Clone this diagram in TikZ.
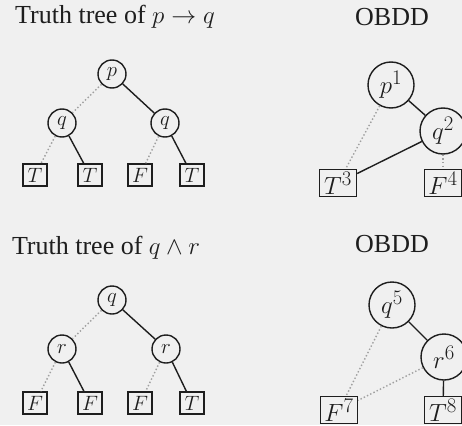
\documentclass[tikz,border=0pt]{standalone}
\usepackage{fontspec}
\setmainfont{Liberation Serif}
\definecolor{bgc}{RGB}{240,240,240}
\definecolor{edgec}{RGB}{30,30,30}
\definecolor{loc}{RGB}{160,160,160}
\tikzset{
  every node/.style={text=edgec},
  title/.style={anchor=base, inner sep=0pt, font=\fontsize{26}{28}\selectfont},
  tnode/.style={circle, draw=edgec, line width=1.4pt, minimum size=28pt, inner sep=0pt, font=\fontsize{22}{22}\selectfont},
  tleaf/.style={rectangle, draw=edgec, line width=1.4pt, minimum width=24pt, minimum height=22pt, inner sep=0pt, font=\fontsize{22}{22}\selectfont},
  onode/.style={circle, draw=edgec, line width=1.4pt, minimum size=46pt, inner sep=0pt, font=\fontsize{30}{30}\selectfont},
  oleaf/.style={rectangle, draw=edgec, line width=1.4pt, minimum width=37pt, minimum height=27pt, inner sep=0pt, font=\fontsize{29}{29}\selectfont},
  hi/.style={draw=edgec, line width=1.4pt},
  lo/.style={draw=loc, line width=1.4pt, dash pattern=on 1.4pt off 2.2pt},
}
\begin{document}
\begin{tikzpicture}[x=1pt, y=-1pt]
\useasboundingbox (0,0) rectangle (462,425);
\fill[bgc] (0,0) rectangle (462,425);

% titles
\node[title] (t1) at (115,24) {Truth tree of $p \to q$};
\node[title] (t2) at (392,26) {OBDD};
\node[title] (t3) at (106,254) {Truth tree of $q \wedge r$};
\node[title] (t4) at (392,252) {OBDD};

% truth tree of p -> q
\node[tnode] (a) at (112,74) {$p$};
\node[tnode] (a0) at (62,123) {$q$};
\node[tnode] (a1) at (165,123) {$q$};
\node[tleaf] (a00) at (35,175) {$T$};
\node[tleaf] (a01) at (90,175) {$T$};
\node[tleaf] (a10) at (140,175) {$F$};
\node[tleaf] (a11) at (192,175) {$T$};
\draw[lo] (a) -- (a0);
\draw[hi] (a) -- (a1);
\draw[lo] (a0) -- (a00);
\draw[hi] (a0) -- (a01);
\draw[lo] (a1) -- (a10);
\draw[hi] (a1) -- (a11);

% OBDD of p -> q
\node[onode] (p1) at (391,85) {$p^1$};
\node[onode] (q2) at (443,131) {$q^2$};
\node[oleaf] (T3) at (338,183) {$T^3$};
\node[oleaf] (F4) at (443,183) {$F^4$};
\draw[lo] (p1) -- (T3);
\draw[hi] (p1) -- (q2);
\draw[hi] (q2) -- (T3);
\draw[lo] (q2) -- (F4);

% truth tree of q and r
\node[tnode] (b) at (112,300) {$q$};
\node[tnode] (b0) at (62,349) {$r$};
\node[tnode] (b1) at (166,349) {$r$};
\node[tleaf] (b00) at (35,403) {$F$};
\node[tleaf] (b01) at (90,403) {$F$};
\node[tleaf] (b10) at (140,403) {$F$};
\node[tleaf] (b11) at (192,403) {$T$};
\draw[lo] (b) -- (b0);
\draw[hi] (b) -- (b1);
\draw[lo] (b0) -- (b00);
\draw[hi] (b0) -- (b01);
\draw[lo] (b1) -- (b10);
\draw[hi] (b1) -- (b11);

% OBDD of q and r
\node[onode] (q5) at (392,305) {$q^5$};
\node[onode] (r6) at (444,357) {$r^6$};
\node[oleaf] (F7) at (339,410) {$F^7$};
\node[oleaf] (T8) at (443,410) {$T^8$};
\draw[lo] (q5) -- (F7);
\draw[hi] (q5) -- (r6);
\draw[lo] (r6) -- (F7);
\draw[hi] (r6) -- (T8);
\end{tikzpicture}
\end{document}
